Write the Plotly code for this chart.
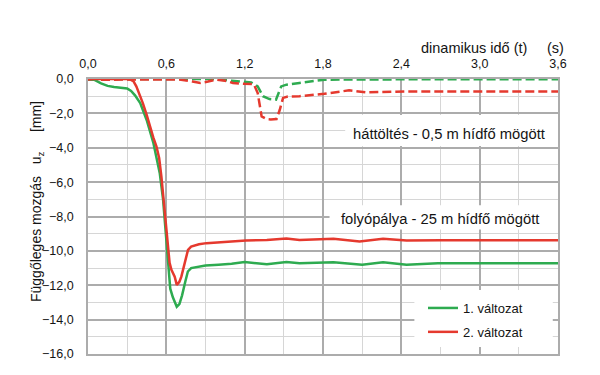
import plotly.graph_objects as go

# ---- data ----
t_v1_folyo = [0, 0.05, 0.1, 0.15, 0.2, 0.25, 0.3, 0.33, 0.36, 0.40, 0.45, 0.50, 0.55, 0.575, 0.60,
              0.615, 0.63, 0.65, 0.68, 0.70, 0.72, 0.745, 0.765, 0.79, 0.85, 0.9, 1.0, 1.1, 1.2,
              1.37, 1.52, 1.62, 1.88, 2.1, 2.26, 2.44, 2.68, 3.0, 3.6]
v_v1_folyo = [0, -0.05, -0.25, -0.4, -0.47, -0.5, -0.55, -0.7, -0.95, -1.4, -2.4, -3.7, -5.5, -7.0, -9.4,
              -11.0, -12.2, -12.7, -13.25, -13.1, -12.6, -11.8, -11.2, -11.0, -10.9, -10.85, -10.8, -10.75, -10.65,
              -10.78, -10.65, -10.72, -10.66, -10.8, -10.66, -10.8, -10.72, -10.72, -10.72]

t_v2_folyo = [0, 0.3, 0.33, 0.35, 0.37, 0.40, 0.42, 0.45, 0.473, 0.50, 0.524, 0.545, 0.562, 0.575, 0.588,
              0.60, 0.613, 0.625, 0.639, 0.664, 0.68, 0.70, 0.715, 0.74, 0.766, 0.79, 0.85, 0.907, 1.0,
              1.06, 1.21, 1.37, 1.52, 1.62, 1.88, 2.08, 2.26, 2.44, 2.7, 3.6]
v_v2_folyo = [0, 0, -0.05, -0.15, -0.43, -0.95, -1.4, -2.1, -2.76, -3.4, -3.92, -4.6, -5.67, -6.7, -7.8,
              -9.0, -10.13, -10.7, -11.1, -11.5, -11.98, -11.8, -11.5, -10.8, -9.94, -9.75, -9.62, -9.55, -9.5,
              -9.46, -9.4, -9.36, -9.28, -9.36, -9.3, -9.46, -9.3, -9.4, -9.38, -9.38]

t_v1_hatt = [0, 0.6, 0.95, 1.1, 1.25, 1.30, 1.34, 1.39, 1.44, 1.48, 1.52, 1.62, 1.81, 2.4, 3.6]
v_v1_hatt = [0, 0, 0, -0.1, -0.2, -0.43, -1.0, -1.17, -1.2, -0.43, -0.33, -0.23, -0.04, -0.02, -0.02]

t_v2_hatt = [0, 0.2, 0.4, 0.6, 0.7, 0.8, 0.86, 0.92, 0.98, 1.05, 1.11, 1.2, 1.27, 1.30, 1.33, 1.367,
             1.40, 1.444, 1.469, 1.494, 1.53, 1.62, 1.81, 2.0, 2.13, 2.44, 3.0, 3.6]
v_v2_hatt = [-0.04, -0.04, -0.04, 0, -0.03, -0.15, -0.23, -0.15, -0.03, -0.1, -0.23, -0.28, -0.3, -0.82,
             -2.18, -2.33, -2.35, -2.33, -1.79, -1.1, -1.02, -1.0, -0.86, -0.66, -0.78, -0.72, -0.72, -0.72]

x_ticks = [0, 0.6, 1.2, 1.8, 2.4, 3.0, 3.6]
y_ticks = [0, -2, -4, -6, -8, -10, -12, -14, -16]

GREEN = "#2eab50"
RED = "#e5392e"
FONT = "Liberation Sans, Arial, sans-serif"
TXT = "#141414"
NB = "\u00a0"

fig = go.Figure()
fig.add_trace(go.Scatter(x=t_v1_hatt, y=v_v1_hatt, mode="lines", showlegend=False,
                         line=dict(color=GREEN, width=2.5, dash="9px,4px")))
fig.add_trace(go.Scatter(x=t_v2_hatt, y=v_v2_hatt, mode="lines", showlegend=False,
                         line=dict(color=RED, width=2.5, dash="9px,4px")))
fig.add_trace(go.Scatter(x=t_v1_folyo, y=v_v1_folyo, mode="lines", name="1. változat",
                         legendgroup="a", line=dict(color=GREEN, width=2.5)))
fig.add_trace(go.Scatter(x=t_v2_folyo, y=v_v2_folyo, mode="lines", name="2. változat",
                         legendgroup="b", line=dict(color=RED, width=2.5)))

# white boxes behind texts/legend (above gridlines, below traces)
for (x0, x1, y0, y1) in [(1.97, 3.6, -2.1, -3.9), (1.85, 3.6, -7.35, -8.75), (2.5, 3.56, -12.27, -15.59)]:
    fig.add_shape(type="rect", xref="x", yref="y", x0=x0, x1=x1, y0=y0, y1=y1,
                  fillcolor="white", line=dict(width=0), layer="between")

fig.add_annotation(x=2.766, y=-3.22, xref="x", yref="y", text="háttöltés - 0,5 m hídfő mögött",
                   showarrow=False, font=dict(size=14.75, color=TXT, family=FONT))
fig.add_annotation(x=2.695, y=-8.15, xref="x", yref="y", text="folyópálya - 25 m hídfő mögött",
                   showarrow=False, font=dict(size=14.75, color=TXT, family=FONT))

fig.add_annotation(x=529, y=38, xref="paper", yref="paper", text="dinamikus idő (t)",
                   showarrow=False, xanchor="right", font=dict(size=14.5, color=TXT, family=FONT))
fig.add_annotation(x=555.5, y=38, xref="paper", yref="paper", text="(s)",
                   showarrow=False, xanchor="center", font=dict(size=14.5, color=TXT, family=FONT))
fig.add_annotation(x=26, y=202, xref="paper", yref="paper", textangle=-90,
                   text="Függőleges mozgás" + NB * 3 + "u<sub>z</sub>" + NB * 5 + "[mm]",
                   showarrow=False, font=dict(size=14, color=TXT, family=FONT))

# convert pixel positions for paper annotations
L, R, T, B = 88, 42, 79, 21
W, H = 600, 375
pw, ph = W - L - R, H - T - B
for a in fig.layout.annotations:
    if a.xref == "paper":
        a.x = (a.x - L) / pw
        a.y = (H - B - a.y) / ph

grid_major = "#acacac"
grid_minor = "#d6d6d6"

fig.update_layout(
    width=W, height=H,
    margin=dict(l=L, r=R, t=T, b=B, pad=0),
    paper_bgcolor="white", plot_bgcolor="white",
    separators=",.",
    font=dict(family=FONT, size=12.5, color=TXT),
    legend=dict(x=(423 - L) / pw, y=(H - B - 293) / ph, xanchor="left", yanchor="top",
                bgcolor="rgba(0,0,0,0)", borderwidth=0, tracegroupgap=4,
                font=dict(size=13, color=TXT, family=FONT)),
    xaxis=dict(range=[0, 3.6], side="top", tickvals=x_ticks, tickformat=".1f",
               showgrid=True, gridcolor=grid_major, gridwidth=1.6,
               minor=dict(dtick=0.3, showgrid=True, gridcolor=grid_minor, gridwidth=1.2),
               showline=True, linecolor=grid_major, linewidth=1.6, mirror=True,
               ticks="", ticklabelstandoff=4, zeroline=False,
               tickfont=dict(size=12.5, color=TXT, family=FONT)),
    yaxis=dict(range=[-16, 0], tickvals=y_ticks, tickformat=".1f",
               showgrid=True, gridcolor=grid_major, gridwidth=1.6,
               minor=dict(dtick=1, showgrid=True, gridcolor=grid_minor, gridwidth=1.2),
               showline=True, linecolor=grid_major, linewidth=1.6, mirror=True,
               ticks="", ticklabelstandoff=10, zeroline=False,
               tickfont=dict(size=12.5, color=TXT, family=FONT)),
)

fig.write_html("out.html")
